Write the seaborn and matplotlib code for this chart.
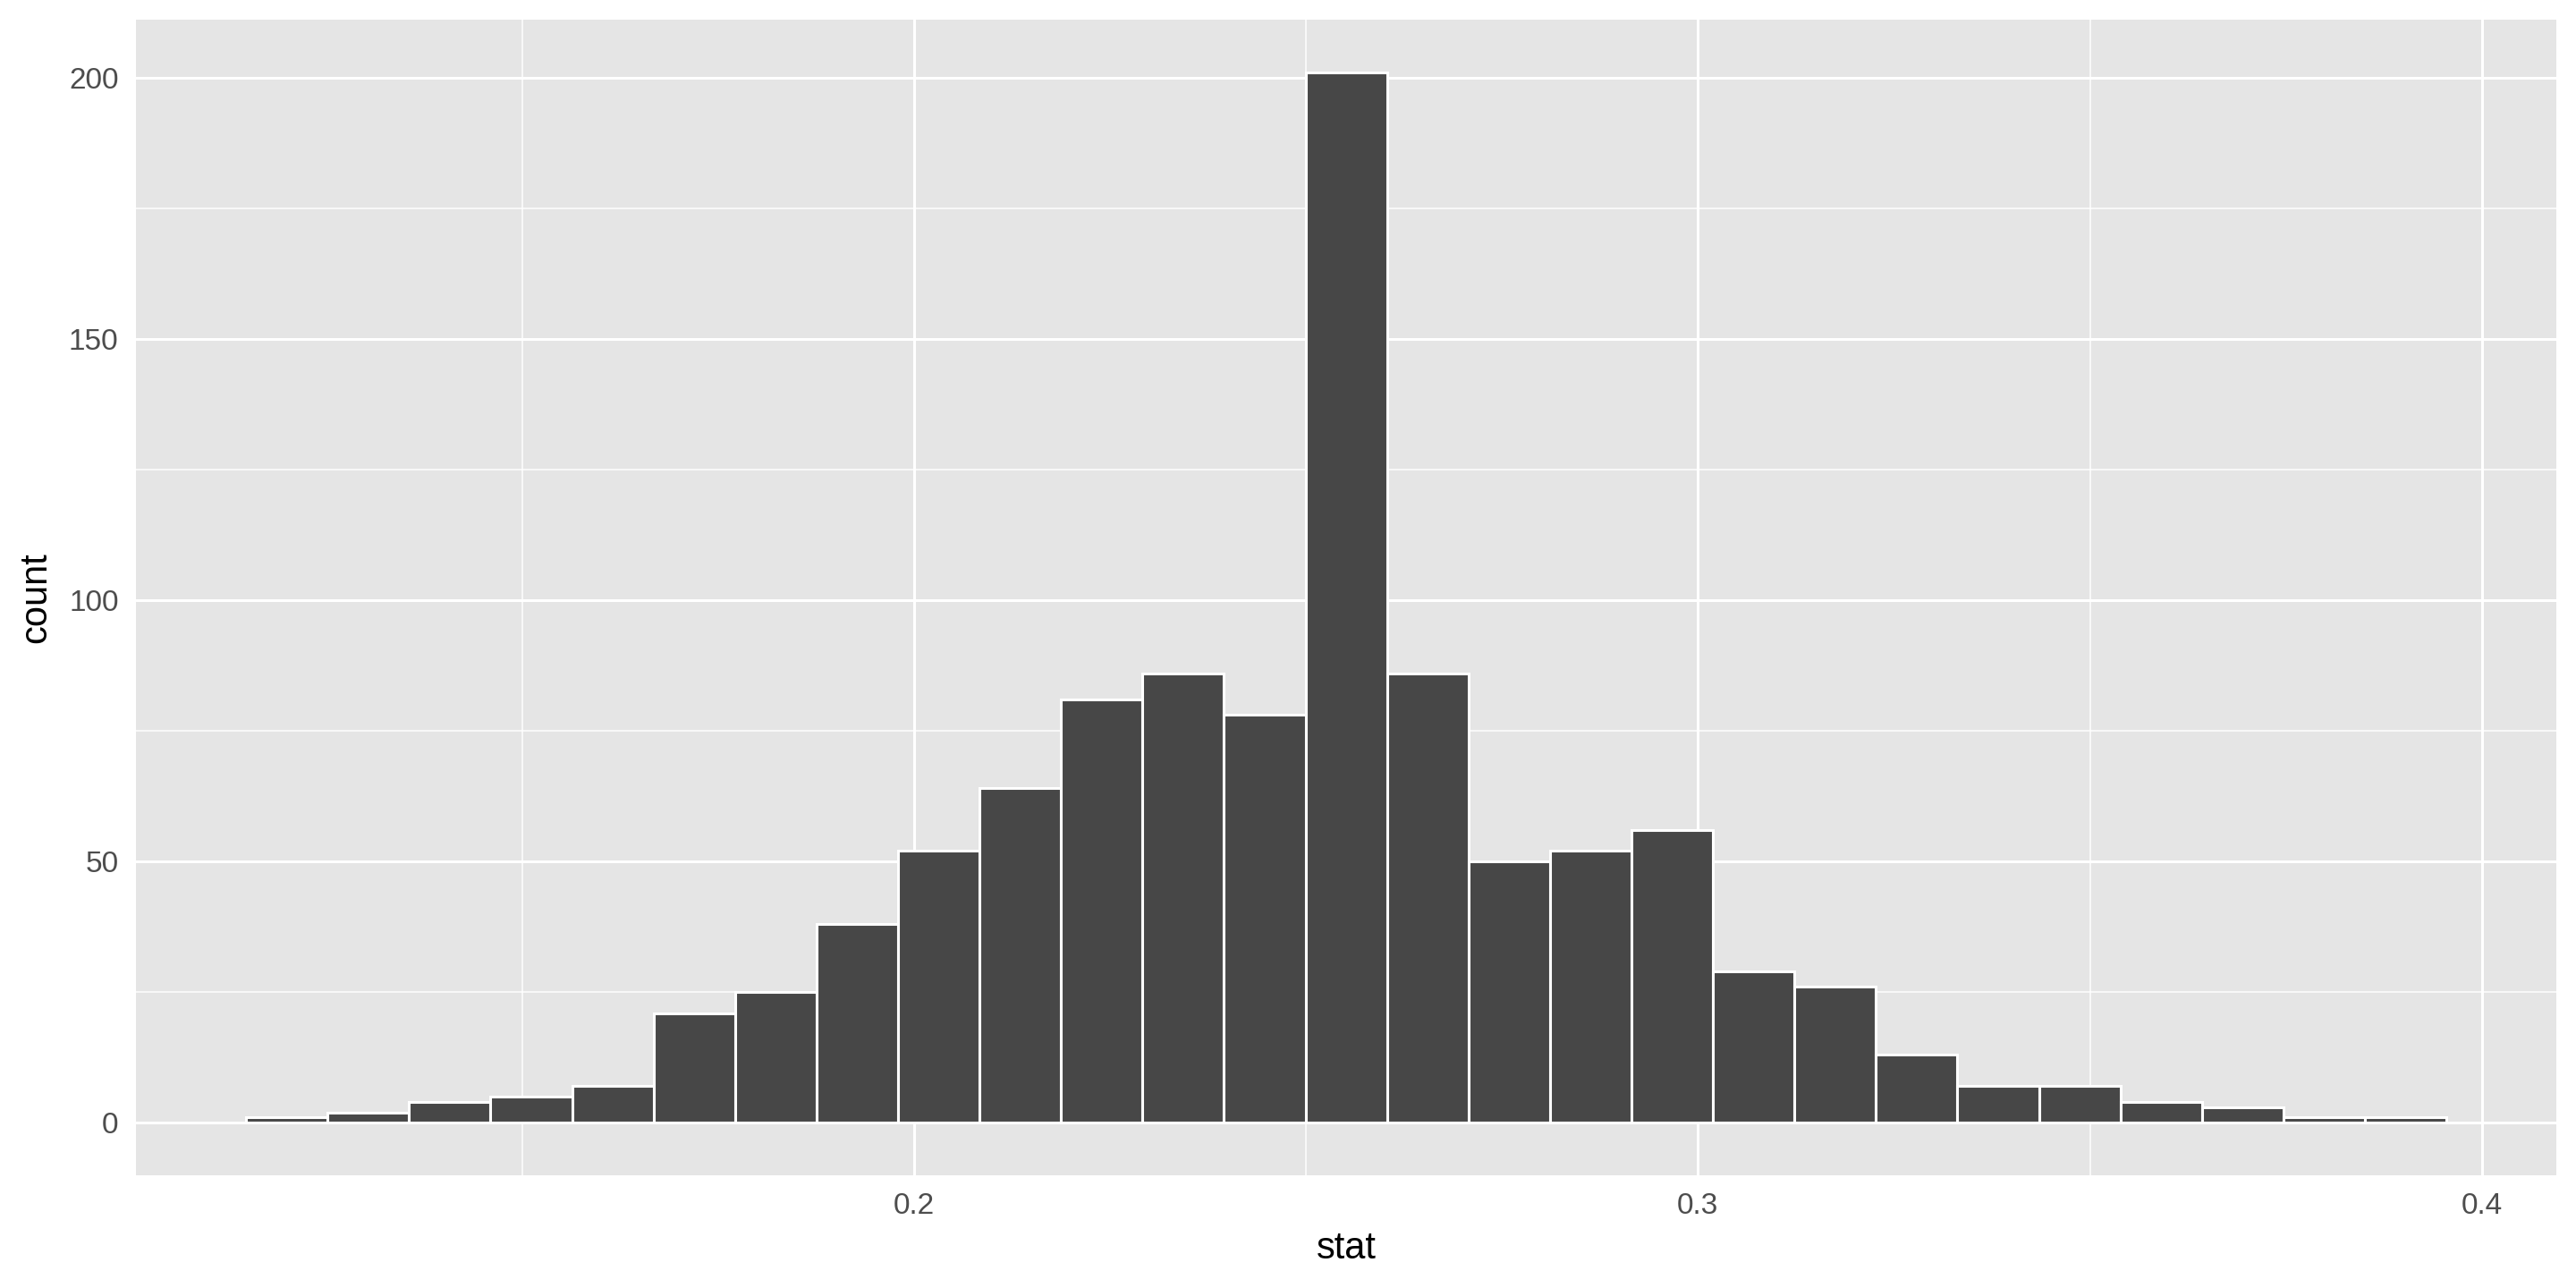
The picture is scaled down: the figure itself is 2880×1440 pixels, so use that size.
import numpy as np
import pandas as pd
import matplotlib
matplotlib.use("Agg")
import matplotlib.pyplot as plt
import seaborn as sns

# histogram counts (27 bins)
bin_start = 0.1148
bin_width = 0.010395
counts = [1, 2, 4, 5, 7, 21, 25, 38, 52, 64, 81, 86, 78, 201,
          86, 50, 52, 56, 29, 26, 13, 7, 7, 4, 3, 1, 1]
x_ticks = [0.2, 0.3, 0.4]
x_minor = [0.15, 0.25, 0.35]
y_ticks = [0, 50, 100, 150, 200]
y_minor = [25, 75, 125, 175]

edges = bin_start + bin_width * np.arange(len(counts) + 1)
df = pd.DataFrame({
    "stat": (edges[:-1] + edges[1:]) / 2,
    "n": counts,
})

sns.set_theme(style="darkgrid")
plt.rcParams['font.family'] = ['Liberation Sans', 'DejaVu Sans']

fig = plt.figure(figsize=(14.4, 7.2), dpi=200)
ax = fig.add_axes([0.0528, 0.0875, 0.9396, 0.8972])
ax.set_facecolor("#E5E5E5")

sns.histplot(data=df, x="stat", weights="n", bins=list(edges), color="#474747",
             edgecolor="white", linewidth=1.1, alpha=1, ax=ax)

# x range with ggplot-style 5% expansion
span = edges[-1] - edges[0]
ax.set_xlim(edges[0] - 0.05 * span, edges[-1] + 0.05 * span)
ymax = max(counts)
ax.set_ylim(-0.05 * ymax, ymax * 1.05)

ax.set_xticks(x_ticks)
ax.set_xticklabels([str(t) for t in x_ticks])
ax.set_xticks(x_minor, minor=True)
ax.set_yticks(y_ticks)
ax.set_yticks(y_minor, minor=True)

ax.set_axisbelow(True)
ax.grid(which="major", color="white", linewidth=1.1)
ax.grid(which="minor", color="white", linewidth=0.55)
for s in ax.spines.values():
    s.set_visible(False)

ax.tick_params(axis="both", which="major", length=4, width=1.1,
               color="#333333", labelcolor="#4D4D4D", labelsize=12, pad=3)
ax.tick_params(axis="both", which="minor", length=0)

ax.set_xlabel("stat", fontsize=15, color="black", labelpad=4)
ax.set_ylabel("count", fontsize=15, color="black", labelpad=6)

fig.savefig("out.png", dpi=200)
